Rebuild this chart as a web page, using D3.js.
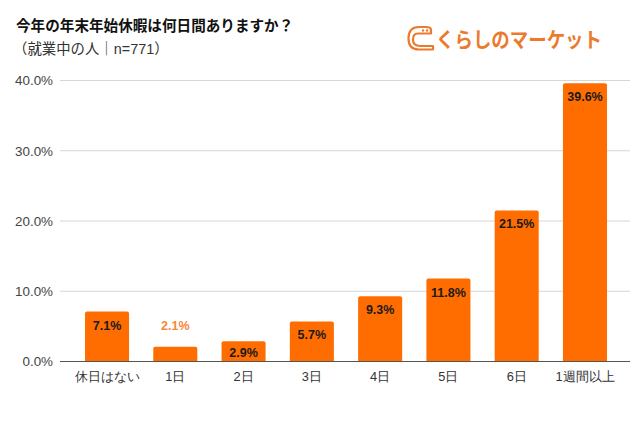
<!DOCTYPE html>
<html><head><meta charset="utf-8">
<script src="https://cdn.jsdelivr.net/npm/d3@7"></script>
<style>
body{margin:0;background:#fff;}
svg{display:block;font-family:"Liberation Sans",Arial,"Noto Sans CJK JP",sans-serif;}
</style></head>
<body>
<svg id="c" width="640" height="426"></svg>
<script>
const categories = ["休日はない","1日","2日","3日","4日","5日","6日","1週間以上"];
const values = [7.1, 2.1, 2.9, 5.7, 9.3, 11.8, 21.5, 39.6];
const yTicks = [0, 10, 20, 30, 40];

const svg = d3.select("#c");
svg.append("rect").attr("width",640).attr("height",426).attr("fill","#fff");

const y = d3.scaleLinear().domain([0,40]).range([361.5, 80.5]);
const x = d3.scaleBand().domain(categories).range([85, 607]).paddingInner(0.355).paddingOuter(0);

// gridlines
svg.append("g").selectAll("line").data(yTicks.filter(d=>d>0)).join("line")
  .attr("x1",60).attr("x2",630)
  .attr("y1",d=>y(d)).attr("y2",d=>y(d))
  .attr("stroke","#d6d6d6").attr("stroke-width",1);

// y axis labels
const yAxis = d3.axisLeft(y).tickValues(yTicks).tickSize(0).tickPadding(0)
  .tickFormat(d=>d3.format(".1f")(d)+"%");
const ya = svg.append("g").attr("transform","translate(53,0)").call(yAxis);
ya.select(".domain").remove();
ya.selectAll("text").attr("font-size",13.4).attr("fill","#444").attr("font-family","Liberation Sans, Arial, sans-serif");

// bars
svg.append("g").selectAll("path").data(values).join("path")
  .attr("fill","#ff6d01")
  .attr("d",(d,i)=>{
    const x0 = x(categories[i]), w = x.bandwidth(), y0 = y(d), yb = y(0), r = 2;
    return `M${x0},${yb}V${y0+r}Q${x0},${y0} ${x0+r},${y0}H${x0+w-r}Q${x0+w},${y0} ${x0+w},${y0+r}V${yb}Z`;
  });

// baseline
svg.append("line").attr("x1",60).attr("x2",630).attr("y1",y(0)).attr("y2",y(0))
  .attr("stroke","#555").attr("stroke-width",1.2);

// value labels
const inside = d => (y(0)-y(d)) > 18;
svg.append("g").selectAll("text").data(values).join("text")
  .attr("x",(d,i)=>x(categories[i])+x.bandwidth()/2)
  .attr("y",d=> inside(d) ? Math.min(y(d)+18, y(0)-5) : y(d)-17)
  .attr("text-anchor","middle")
  .attr("font-size",12.5)
  .attr("font-weight","bold")
  .attr("fill",d=> inside(d) ? "#1a1a1a" : "#f7883a")
  .text(d=>d3.format(".1f")(d)+"%");

// x axis labels
const xAxis = d3.axisBottom(x).tickSize(0).tickPadding(0);
const xa = svg.append("g").attr("transform",`translate(0,380.5)`).call(xAxis);
xa.select(".domain").remove();
xa.selectAll("text").attr("font-size",12.8).attr("fill","#333").attr("dy",0).attr("y",0);

// titles
svg.append("text").attr("x",16).attr("y",31).attr("font-size",14.6).attr("font-weight","bold")
  .attr("fill","#111").text("今年の年末年始休暇は何日間ありますか？");
svg.append("text").attr("x",13).attr("y",53.5).attr("font-size",14.4)
  .attr("fill","#333").text("（就業中の人｜n=771）");

// logo
const lg = svg.append("g");
lg.append("path")
  .attr("d","M431,32 L431,30 Q431,27 426,27 L419,27 Q408.5,27 408.5,38.5 Q408.5,49.5 419,49.5 L433,49.5 L433,46 L420,46 Q413,46 413,39.5 Q413,33.5 418,33.5 L431,33.5 Z")
  .attr("fill","none").attr("stroke","#ec7a2c").attr("stroke-width",2.2).attr("stroke-linejoin","round");
lg.append("circle").attr("cx",423).attr("cy",30.5).attr("r",1.2).attr("fill","#ec7a2c");
lg.append("circle").attr("cx",427).attr("cy",30.5).attr("r",1.2).attr("fill","#ec7a2c");
lg.append("text").attr("x",436).attr("y",46.5).attr("font-size",21).attr("font-weight","bold")
  .attr("font-family","Noto Sans CJK JP, sans-serif")
  .attr("fill","#ec7a2c").attr("textLength",166).attr("lengthAdjust","spacingAndGlyphs")
  .text("くらしのマーケット");
</script>
</body></html>
